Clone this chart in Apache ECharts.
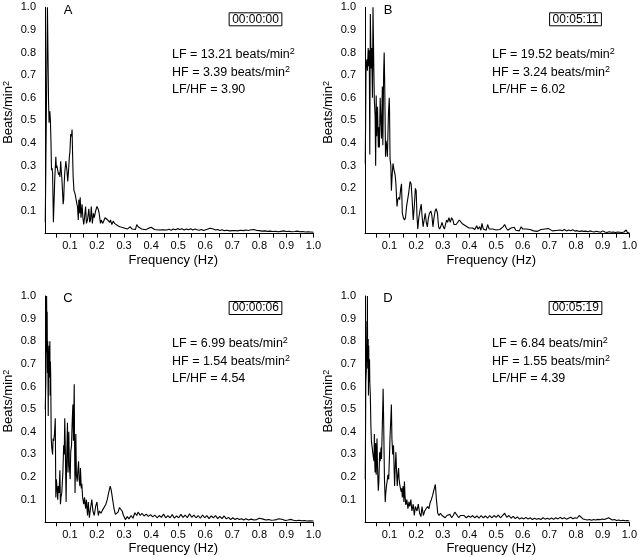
<!DOCTYPE html>
<html>
<head>
<meta charset="utf-8">
<script src="https://cdn.jsdelivr.net/npm/echarts@6/dist/echarts.min.js"></script>
<style>
  html, body { margin: 0; padding: 0; background: #fff; }
  #main { width: 640px; height: 557px; }
</style>
</head>
<body>
<div id="main"></div>
<script>
// spectra: [frequency (Hz), power (beats/min^2, normalised)]
const spectrumA = [
  [0.009,0.05],[0.017,1.0],[0.021,0.59],[0.023,0.49],[0.026,0.54],[0.028,0.50],[0.030,0.41],[0.032,0.28],
  [0.034,0.29],[0.036,0.27],[0.039,0.05],[0.042,0.16],[0.044,0.24],[0.048,0.34],[0.050,0.29],[0.052,0.30],
  [0.055,0.28],[0.058,0.26],[0.061,0.27],[0.063,0.25],[0.066,0.32],[0.068,0.28],[0.070,0.25],[0.073,0.18],
  [0.075,0.13],[0.077,0.15],[0.079,0.22],[0.081,0.27],[0.085,0.32],[0.087,0.30],[0.089,0.28],[0.092,0.23],
  [0.095,0.28],[0.098,0.34],[0.100,0.36],[0.103,0.44],[0.106,0.43],[0.108,0.46],[0.110,0.35],[0.112,0.25],
  [0.115,0.19],[0.118,0.18],[0.120,0.17],[0.123,0.15],[0.126,0.13],[0.128,0.12],[0.131,0.06],[0.133,0.15],
  [0.136,0.09],[0.138,0.16],[0.141,0.07],[0.145,0.13],[0.148,0.07],[0.151,0.04],[0.154,0.07],[0.158,0.12],
  [0.161,0.045],[0.165,0.06],[0.170,0.11],[0.173,0.05],[0.176,0.06],[0.179,0.12],[0.183,0.045],[0.187,0.09],
  [0.190,0.07],[0.195,0.10],[0.200,0.12],[0.204,0.11],[0.208,0.09],[0.213,0.045],[0.216,0.06],[0.221,0.045],
  [0.224,0.05],[0.230,0.07],[0.236,0.075],[0.240,0.06],[0.243,0.065],[0.247,0.05],[0.250,0.06],[0.255,0.04],
  [0.260,0.055],[0.265,0.045],[0.270,0.04],[0.277,0.035],[0.285,0.03],[0.292,0.03],[0.300,0.025],[0.306,0.03],
  [0.312,0.02],[0.318,0.025],[0.323,0.03],[0.330,0.02],[0.336,0.028],[0.342,0.018],[0.347,0.04],[0.352,0.03],
  [0.358,0.022],[0.365,0.02],[0.372,0.024],[0.380,0.017],[0.388,0.022],[0.395,0.019],[0.400,0.028],[0.406,0.022],
  [0.413,0.018],[0.420,0.022],[0.428,0.016],[0.435,0.02],[0.443,0.017],[0.450,0.021],[0.458,0.016],[0.466,0.019],
  [0.474,0.015],[0.482,0.02],[0.490,0.017],[0.498,0.022],[0.506,0.018],[0.514,0.021],[0.522,0.016],[0.530,0.02],
  [0.538,0.017],[0.546,0.021],[0.554,0.016],[0.562,0.02],[0.570,0.017],[0.578,0.015],[0.586,0.018],[0.594,0.014],
  [0.602,0.017],[0.610,0.02],[0.618,0.024],[0.624,0.026],[0.630,0.02],[0.638,0.016],[0.646,0.018],[0.654,0.014],
  [0.662,0.017],[0.670,0.013],[0.680,0.015],[0.690,0.012],[0.700,0.013],[0.710,0.014],[0.720,0.012],[0.730,0.015],
  [0.740,0.013],[0.750,0.016],[0.760,0.014],[0.770,0.017],[0.780,0.018],[0.790,0.014],[0.800,0.013],[0.810,0.011],
  [0.820,0.012],[0.830,0.01],[0.840,0.011],[0.850,0.009],[0.860,0.01],[0.870,0.008],[0.880,0.01],[0.890,0.012],
  [0.900,0.009],[0.910,0.01],[0.920,0.008],[0.930,0.009],[0.940,0.011],[0.950,0.008],[0.960,0.009],[0.970,0.007],
  [0.980,0.008],[0.990,0.007],[1.000,0.006]
];
const spectrumB = [
  [0.009,0.31],[0.012,0.74],[0.015,0.77],[0.017,0.72],[0.020,0.82],[0.022,0.74],[0.024,0.81],[0.026,0.35],
  [0.028,0.97],[0.031,0.73],[0.033,0.82],[0.036,0.60],[0.038,1.0],[0.041,0.74],[0.043,0.59],[0.046,0.52],
  [0.048,0.30],[0.050,0.61],[0.052,0.43],[0.055,0.56],[0.058,0.38],[0.060,0.47],[0.062,0.38],[0.065,0.60],
  [0.067,0.52],[0.070,0.42],[0.073,0.65],[0.075,0.39],[0.078,0.71],[0.080,0.80],[0.082,0.66],[0.085,0.34],
  [0.087,0.41],[0.090,0.38],[0.092,0.34],[0.096,0.53],[0.099,0.60],[0.100,0.55],[0.102,0.33],[0.105,0.30],
  [0.107,0.19],[0.110,0.26],[0.113,0.31],[0.117,0.28],[0.121,0.26],[0.124,0.22],[0.128,0.12],[0.131,0.15],
  [0.135,0.16],[0.138,0.15],[0.142,0.20],[0.145,0.22],[0.148,0.09],[0.152,0.07],[0.156,0.06],[0.160,0.07],
  [0.164,0.12],[0.168,0.15],[0.172,0.18],[0.177,0.23],[0.181,0.22],[0.185,0.15],[0.189,0.06],[0.193,0.12],
  [0.197,0.20],[0.200,0.19],[0.203,0.08],[0.206,0.02],[0.210,0.07],[0.214,0.10],[0.219,0.13],[0.222,0.08],
  [0.226,0.03],[0.230,0.06],[0.234,0.09],[0.238,0.05],[0.242,0.03],[0.246,0.07],[0.250,0.09],[0.255,0.10],
  [0.259,0.08],[0.263,0.03],[0.267,0.07],[0.271,0.10],[0.275,0.11],[0.280,0.09],[0.284,0.03],[0.288,0.02],
  [0.292,0.03],[0.297,0.05],[0.302,0.03],[0.306,0.02],[0.310,0.04],[0.314,0.06],[0.318,0.05],[0.323,0.07],
  [0.328,0.05],[0.333,0.07],[0.338,0.06],[0.342,0.04],[0.346,0.045],[0.350,0.04],[0.356,0.05],[0.362,0.06],
  [0.366,0.055],[0.372,0.045],[0.378,0.04],[0.385,0.035],[0.392,0.03],[0.398,0.025],[0.405,0.02],[0.412,0.025],
  [0.420,0.018],[0.427,0.035],[0.432,0.02],[0.438,0.03],[0.443,0.015],[0.447,0.045],[0.452,0.02],[0.458,0.025],
  [0.463,0.015],[0.468,0.04],[0.474,0.02],[0.480,0.015],[0.487,0.02],[0.494,0.012],[0.500,0.016],[0.507,0.01],
  [0.514,0.018],[0.520,0.02],[0.526,0.03],[0.532,0.04],[0.538,0.025],[0.544,0.015],[0.550,0.02],[0.556,0.025],
  [0.562,0.018],[0.568,0.028],[0.574,0.015],[0.580,0.02],[0.587,0.012],[0.594,0.03],[0.600,0.02],[0.607,0.015],
  [0.613,0.02],[0.620,0.012],[0.627,0.018],[0.634,0.02],[0.641,0.012],[0.648,0.016],[0.655,0.01],[0.662,0.014],
  [0.669,0.018],[0.676,0.012],[0.683,0.02],[0.690,0.015],[0.697,0.022],[0.704,0.015],[0.711,0.012],[0.718,0.018],
  [0.725,0.014],[0.732,0.011],[0.740,0.016],[0.748,0.013],[0.756,0.018],[0.764,0.012],[0.772,0.016],[0.780,0.013],
  [0.788,0.017],[0.796,0.011],[0.804,0.013],[0.812,0.009],[0.820,0.012],[0.828,0.01],[0.836,0.011],[0.844,0.008],
  [0.852,0.012],[0.860,0.009],[0.868,0.007],[0.876,0.01],[0.884,0.008],[0.892,0.006],[0.900,0.012],[0.908,0.007],
  [0.916,0.005],[0.924,0.008],[0.932,0.006],[0.940,0.007],[0.948,0.005],[0.956,0.007],[0.964,0.006],[0.972,0.005],
  [0.980,0.007],[0.988,0.016],[0.993,0.004],[1.000,0.004]
];
const spectrumC = [
  [0.009,0.50],[0.011,0.62],[0.014,1.0],[0.015,0.75],[0.016,0.93],[0.017,0.66],[0.018,0.80],[0.020,0.47],
  [0.021,0.70],[0.023,0.78],[0.024,0.64],[0.026,0.80],[0.027,0.56],[0.028,0.71],[0.029,0.65],[0.031,0.37],
  [0.033,0.33],[0.036,0.30],[0.038,0.37],[0.040,0.36],[0.043,0.39],[0.046,0.46],[0.048,0.11],[0.050,0.19],
  [0.052,0.16],[0.055,0.10],[0.057,0.16],[0.060,0.13],[0.063,0.23],[0.065,0.08],[0.067,0.11],[0.070,0.13],
  [0.074,0.22],[0.077,0.34],[0.079,0.30],[0.081,0.46],[0.083,0.33],[0.086,0.09],[0.088,0.28],[0.091,0.44],
  [0.093,0.22],[0.096,0.40],[0.098,0.25],[0.101,0.19],[0.103,0.31],[0.106,0.34],[0.108,0.43],[0.111,0.52],
  [0.113,0.36],[0.116,0.61],[0.117,0.40],[0.119,0.13],[0.122,0.39],[0.124,0.21],[0.127,0.18],[0.129,0.22],
  [0.132,0.27],[0.134,0.19],[0.137,0.16],[0.139,0.24],[0.142,0.15],[0.144,0.17],[0.147,0.11],[0.151,0.08],
  [0.154,0.11],[0.158,0.06],[0.161,0.10],[0.165,0.03],[0.168,0.09],[0.172,0.02],[0.176,0.06],[0.181,0.10],
  [0.185,0.05],[0.190,0.03],[0.195,0.07],[0.200,0.09],[0.205,0.03],[0.209,0.05],[0.215,0.04],[0.221,0.055],
  [0.228,0.06],[0.233,0.08],[0.238,0.10],[0.243,0.13],[0.249,0.16],[0.253,0.14],[0.258,0.10],[0.263,0.06],
  [0.268,0.035],[0.273,0.03],[0.278,0.045],[0.283,0.065],[0.288,0.068],[0.293,0.05],[0.298,0.03],[0.305,0.012],
  [0.312,0.025],[0.318,0.015],[0.326,0.03],[0.333,0.018],[0.340,0.042],[0.347,0.03],[0.352,0.045],[0.360,0.03],
  [0.366,0.04],[0.374,0.028],[0.382,0.036],[0.390,0.026],[0.398,0.034],[0.406,0.024],[0.414,0.032],[0.422,0.02],
  [0.430,0.03],[0.438,0.022],[0.446,0.036],[0.454,0.02],[0.462,0.03],[0.470,0.02],[0.478,0.034],[0.486,0.018],
  [0.494,0.028],[0.502,0.02],[0.510,0.035],[0.518,0.022],[0.526,0.032],[0.534,0.02],[0.542,0.038],[0.550,0.022],
  [0.558,0.032],[0.566,0.02],[0.574,0.03],[0.582,0.018],[0.590,0.032],[0.598,0.02],[0.606,0.03],[0.614,0.016],
  [0.622,0.028],[0.630,0.02],[0.638,0.03],[0.646,0.016],[0.654,0.026],[0.662,0.016],[0.670,0.028],[0.678,0.015],
  [0.686,0.022],[0.694,0.012],[0.702,0.02],[0.710,0.012],[0.718,0.018],[0.726,0.012],[0.734,0.016],[0.742,0.01],
  [0.750,0.016],[0.760,0.01],[0.770,0.014],[0.780,0.01],[0.790,0.012],[0.800,0.018],[0.806,0.022],[0.814,0.014],
  [0.824,0.01],[0.834,0.012],[0.844,0.009],[0.854,0.01],[0.864,0.012],[0.872,0.016],[0.878,0.02],[0.886,0.012],
  [0.896,0.008],[0.906,0.01],[0.916,0.013],[0.926,0.009],[0.936,0.007],[0.946,0.009],[0.956,0.007],[0.966,0.008],
  [0.976,0.006],[0.986,0.007],[1.000,0.006]
];
const spectrumD = [
  [0.009,0.19],[0.011,0.62],[0.013,0.67],[0.015,0.89],[0.016,0.71],[0.017,1.0],[0.018,0.68],[0.020,0.81],
  [0.021,0.56],[0.022,0.78],[0.023,0.62],[0.025,0.72],[0.026,0.62],[0.028,0.56],[0.030,0.43],[0.032,0.36],
  [0.034,0.34],[0.037,0.31],[0.039,0.29],[0.042,0.27],[0.043,0.39],[0.045,0.25],[0.046,0.22],[0.048,0.35],
  [0.050,0.21],[0.053,0.37],[0.055,0.24],[0.058,0.14],[0.060,0.18],[0.063,0.31],[0.065,0.27],[0.068,0.33],
  [0.070,0.28],[0.073,0.43],[0.075,0.53],[0.076,0.59],[0.078,0.45],[0.079,0.36],[0.081,0.19],[0.084,0.09],
  [0.086,0.13],[0.089,0.165],[0.091,0.18],[0.094,0.21],[0.097,0.19],[0.100,0.30],[0.102,0.38],[0.105,0.46],
  [0.107,0.52],[0.109,0.37],[0.112,0.30],[0.115,0.34],[0.117,0.25],[0.119,0.16],[0.121,0.23],[0.124,0.31],
  [0.126,0.24],[0.129,0.16],[0.131,0.20],[0.134,0.24],[0.136,0.19],[0.138,0.17],[0.141,0.15],[0.144,0.135],
  [0.146,0.15],[0.148,0.11],[0.151,0.16],[0.154,0.09],[0.156,0.18],[0.158,0.12],[0.161,0.077],[0.165,0.10],
  [0.169,0.06],[0.173,0.09],[0.176,0.07],[0.180,0.10],[0.184,0.05],[0.189,0.08],[0.193,0.03],[0.197,0.07],
  [0.203,0.05],[0.208,0.08],[0.213,0.04],[0.218,0.025],[0.222,0.07],[0.227,0.03],[0.232,0.05],[0.237,0.06],
  [0.243,0.07],[0.248,0.06],[0.253,0.09],[0.257,0.10],[0.262,0.12],[0.266,0.14],[0.272,0.167],[0.276,0.10],
  [0.281,0.04],[0.286,0.03],[0.291,0.04],[0.297,0.03],[0.303,0.035],[0.309,0.02],[0.315,0.03],[0.321,0.025],
  [0.327,0.035],[0.333,0.02],[0.339,0.03],[0.345,0.045],[0.349,0.05],[0.354,0.03],[0.360,0.02],[0.366,0.03],
  [0.372,0.022],[0.380,0.03],[0.388,0.02],[0.396,0.028],[0.404,0.022],[0.412,0.03],[0.420,0.02],[0.428,0.028],
  [0.436,0.018],[0.444,0.03],[0.452,0.02],[0.460,0.028],[0.468,0.018],[0.476,0.03],[0.484,0.02],[0.492,0.03],
  [0.500,0.022],[0.508,0.032],[0.516,0.02],[0.524,0.03],[0.532,0.04],[0.540,0.022],[0.548,0.03],[0.556,0.018],
  [0.564,0.026],[0.572,0.016],[0.580,0.024],[0.588,0.014],[0.596,0.02],[0.604,0.015],[0.612,0.022],[0.620,0.014],
  [0.628,0.02],[0.636,0.012],[0.644,0.018],[0.652,0.013],[0.660,0.017],[0.668,0.012],[0.676,0.02],[0.684,0.014],
  [0.692,0.018],[0.700,0.013],[0.708,0.019],[0.716,0.013],[0.724,0.02],[0.732,0.015],[0.740,0.022],[0.748,0.016],
  [0.756,0.02],[0.764,0.014],[0.772,0.018],[0.780,0.022],[0.788,0.016],[0.796,0.02],[0.804,0.018],[0.812,0.03],
  [0.818,0.025],[0.826,0.015],[0.834,0.012],[0.842,0.01],[0.850,0.012],[0.858,0.009],[0.866,0.012],[0.874,0.01],
  [0.882,0.013],[0.890,0.011],[0.898,0.015],[0.906,0.012],[0.914,0.016],[0.922,0.02],[0.928,0.014],[0.936,0.01],
  [0.944,0.012],[0.952,0.008],[0.960,0.01],[0.968,0.007],[0.976,0.009],[0.984,0.007],[0.992,0.008],[1.000,0.006]
];

const panelLetters = ['A', 'B', 'C', 'D'];
const timeStamps = ['00:00:00', '00:05:11', '00:00:06', '00:05:19'];
const lfValues = ['13.21', '19.52', '6.99', '6.84'];
const hfValues = ['3.39', '3.24', '1.54', '1.55'];
const ratioValues = ['3.90', '6.02', '4.54', '4.39'];

const xTickValues = [0.05,0.1,0.15,0.2,0.25,0.3,0.35,0.4,0.45,0.5,0.55,0.6,0.65,0.7,0.75,0.8,0.85,0.9,0.95,1.0];
const xLabelValues = [0.1,0.2,0.3,0.4,0.5,0.6,0.7,0.8,0.9,1.0];
const yLabelValues = [0.1,0.2,0.3,0.4,0.5,0.6,0.7,0.8,0.9,1.0];

const spectra = [spectrumA, spectrumB, spectrumC, spectrumD];

const chart = echarts.init(document.getElementById('main'));
const FONT = 'Liberation Sans';
// panel offsets (px)
const offsets = [[0, 0], [320, 0], [0, 288.7], [320, 288.7]];

const grids = [], xAxes = [], yAxes = [], series = [], graphics = [];
const supRich = { s: { fontSize: 9, verticalAlign: 'top', lineHeight: 8, fontFamily: FONT, color: '#000' } };

offsets.forEach(([dx, dy], i) => {
  grids.push({ left: 45 + dx, top: 7.3 + dy, width: 268.5, height: 226.3 });
  xAxes.push({
    type: 'value', gridIndex: i, min: 0.008, max: 1.0,
    name: 'Frequency (Hz)', nameLocation: 'middle', nameGap: 20,
    nameTextStyle: { fontFamily: FONT, fontSize: 13, color: '#000', padding: [0, 12, 0, 0] },
    axisLine: { lineStyle: { color: '#000', width: 1 } },
    axisTick: { show: true, length: 4, customValues: xTickValues, lineStyle: { color: '#000' } },
    axisLabel: { customValues: xLabelValues, margin: 7, fontFamily: FONT, fontSize: 11, color: '#000',
      formatter: v => v.toFixed(1) },
    splitLine: { show: false }
  });
  yAxes.push({
    type: 'value', gridIndex: i, min: 0, max: 1.0,
    name: '{a|Beats/min}{s|2}', nameLocation: 'middle', nameGap: 30,
    nameTextStyle: { fontFamily: FONT, fontSize: 13, color: '#000', padding: [0, 0, 0, 16],
      rich: { a: { fontFamily: FONT, fontSize: 13, color: '#000' }, ...supRich } },
    axisLine: { show: true, lineStyle: { color: '#000', width: 1 } },
    axisTick: { show: false },
    axisLabel: { customValues: yLabelValues, margin: 9, fontFamily: FONT, fontSize: 11, color: '#000',
      formatter: v => v.toFixed(1) },
    splitLine: { show: false }
  });
  series.push({
    type: 'line', xAxisIndex: i, yAxisIndex: i, data: spectra[i],
    showSymbol: false, symbol: 'none', lineStyle: { color: '#000', width: 1.1 }, clip: true
  });

  graphics.push(
    { type: 'text', x: 68 + dx, y: 10 + dy,
      style: { text: panelLetters[i], font: `13px "${FONT}"`, fill: '#000', align: 'center', verticalAlign: 'middle' } },
    { type: 'text', x: 255.5 + dx, y: 19.3 + dy,
      style: { text: timeStamps[i], font: `12px "${FONT}"`, fill: '#000', align: 'center', verticalAlign: 'middle',
        borderColor: '#000', borderWidth: 1, padding: [1, 3, 0, 3] } },
    { type: 'text', x: 172 + dx, y: 55 + dy,
      style: { text: `LF = ${lfValues[i]} beats/min{s|2}`, rich: supRich, font: `12.5px "${FONT}"`, fill: '#000',
        align: 'left', verticalAlign: 'middle', lineHeight: 15 } },
    { type: 'text', x: 172 + dx, y: 72.5 + dy,
      style: { text: `HF = ${hfValues[i]} beats/min{s|2}`, rich: supRich, font: `12.5px "${FONT}"`, fill: '#000',
        align: 'left', verticalAlign: 'middle', lineHeight: 15 } },
    { type: 'text', x: 172 + dx, y: 90 + dy,
      style: { text: `LF/HF = ${ratioValues[i]}`, font: `12.5px "${FONT}"`, fill: '#000',
        align: 'left', verticalAlign: 'middle' } }
  );
});

chart.setOption({
  animation: false,
  backgroundColor: '#fff',
  grid: grids,
  xAxis: xAxes,
  yAxis: yAxes,
  series: series,
  graphic: graphics
});
</script>
</body>
</html>
